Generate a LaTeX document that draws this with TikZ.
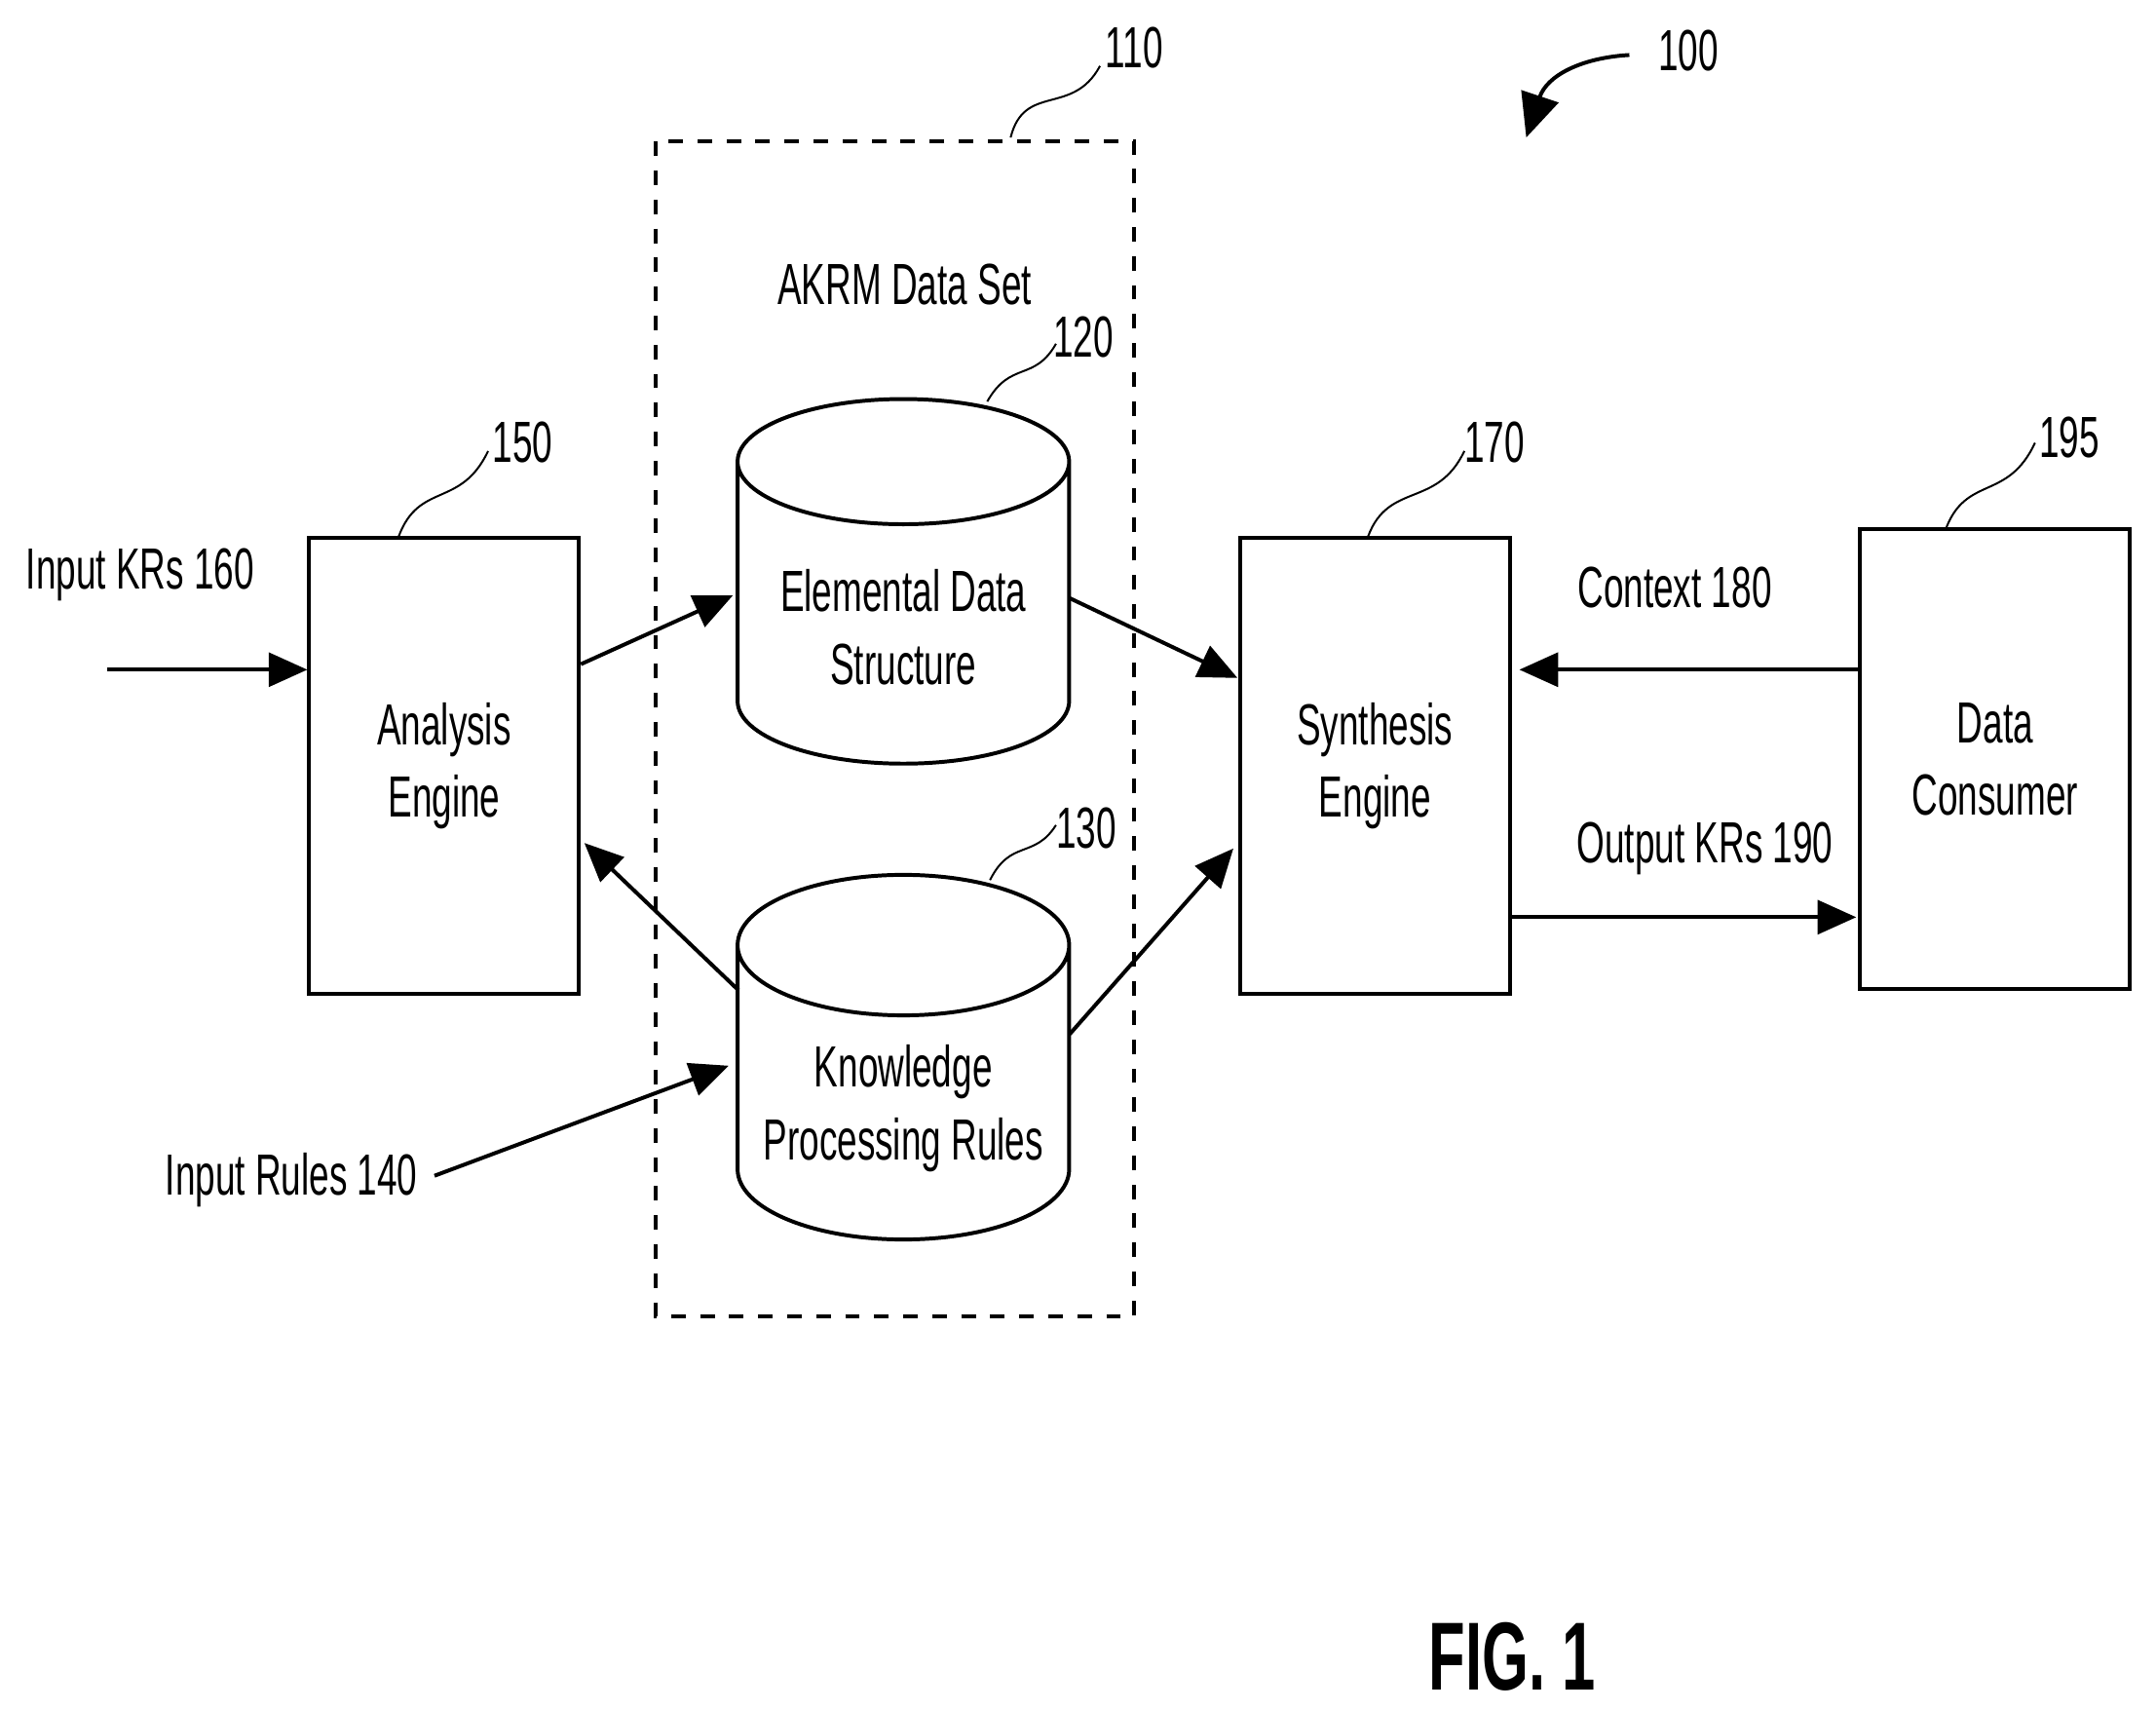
\documentclass[tikz,border=0pt]{standalone}
\usepackage{fontspec}
\setmainfont{Liberation Sans}[FakeStretch=0.62]
\usetikzlibrary{arrows.meta,shapes.geometric,positioning}

\tikzset{
    box/.style={draw,thick,minimum width=1.96cm,minimum height=3.31cm,align=center,font=\fontsize{12}{15}\selectfont},
    store/.style={draw,thick,cylinder,shape border rotate=90,aspect=0.45,minimum width=2.41cm,minimum height=2.65cm,align=center,font=\fontsize{12}{15}\selectfont},
    flow/.style={thick,-{Triangle[length=8pt,width=7pt]}},
    lbl/.style={font=\fontsize{12}{15}\selectfont},
    num/.style={font=\fontsize{12}{15}\selectfont},
    lead/.style={thin}
}

\begin{document}
\begin{tikzpicture}[x=0.01cm,y=-0.01cm]
    \useasboundingbox (0,0) rectangle (1568,1243);
    % data set group
    \draw[thick,dashed] (477,103) rectangle (825,957);
    \node[lbl] (akrm) at (658,207) {AKRM Data Set};
    % blocks
    \node[box] (analysis) at (323,557) {Analysis\\Engine};
    \node[box] (synth) at (1000,557) {Synthesis\\Engine};
    \node[box,minimum height=3.34cm] (consumer) at (1451,552) {Data\\Consumer};
    \node[store] (eds) at (657,456) {Elemental Data\\Structure};
    \node[store] (kpr) at (657,806) {Knowledge\\Processing Rules};
    % inputs and outputs
    \coordinate (inkr) at (78,487);
    \coordinate (inrule) at (316,855);
    \node[lbl] (inkrl) at (102,418) {Input KRs 160};
    \node[lbl] (inrulel) at (212,858) {Input Rules 140};
    \node[lbl] (ctxl) at (1218,427) {Context 180};
    \node[lbl] (outl) at (1240,617) {Output KRs 190};
    \draw[flow] (inkr) -- (inkr -| analysis.west);
    \draw[flow] (analysis.east |- 0,483) -- (533,433);
    \draw[flow] (778,435) -- (900,493);
    \draw[flow] (537,720) -- (425,613);
    \draw[flow] (778,752) -- (897,617);
    \draw[flow] (inrule) -- (530,775);
    \draw[flow] (consumer.west |- 0,487) -- (1105,487);
    \draw[flow] (synth.east |- 0,667) -- (1350,667);
    % reference numerals
    \node[num] (n110) at (825,35) {110};
    \node[num] (n120) at (788,245) {120};
    \node[num] (n130) at (790,602) {130};
    \node[num] (n150) at (380,322) {150};
    \node[num] (n170) at (1087,322) {170};
    \node[num] (n195) at (1505,318) {195};
    \node[num] (n100) at (1228,37) {100};
    \draw[lead] (735,100) .. controls (745,60) and (780,85) .. (800,48);
    \draw[lead] (718,292) .. controls (735,262) and (752,278) .. (768,250);
    \draw[lead] (720,640) .. controls (735,610) and (752,625) .. (768,600);
    \draw[lead] (290,390) .. controls (305,350) and (335,370) .. (355,328);
    \draw[lead] (995,390) .. controls (1010,350) and (1045,370) .. (1065,328);
    \draw[lead] (1415,385) .. controls (1430,345) and (1460,365) .. (1480,322);
    \draw[thick,-{Triangle[length=9pt,width=8pt]}] (1185,40) .. controls (1150,42) and (1125,55) .. (1110,100);
    \node[font=\fontsize{20}{24}\selectfont\bfseries] (fig) at (1100,1205) {FIG. 1};
\end{tikzpicture}
\end{document}
